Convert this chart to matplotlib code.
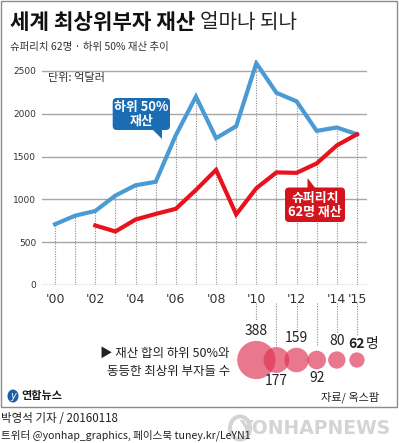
import numpy as np
import matplotlib
matplotlib.use("Agg")
import matplotlib.pyplot as plt
import matplotlib.transforms as mtransforms
from matplotlib.patches import FancyBboxPatch, Polygon, Rectangle, Ellipse

plt.rcParams['font.family'] = ['Noto Sans CJK KR', 'DejaVu Sans']

# data (unit: 100 million dollars)
years = list(range(2000, 2016))
bottom50 = [710, 810, 865, 1045, 1165, 1205, 1750, 2200, 1715, 1855,
            2590, 2245, 2145, 1800, 1840, 1760]
top62_years = list(range(2002, 2016))
top62 = [695, 625, 765, 830, 890, 1110, 1345, 825, 1130, 1315,
         1310, 1420, 1630, 1760]

xtick_years = [2000, 2002, 2004, 2006, 2008, 2010, 2012, 2014, 2015]
xtick_labels = ["'00", "'02", "'04", "'06", "'08", "'10", "'12", "'14", "'15"]
ytick_vals = [0, 500, 1000, 1500, 2000, 2500]

bubble_years = [2010, 2011, 2012, 2013, 2014, 2015]
bubble_counts = [388, 177, 159, 92, 80, 62]
bubble_above = [True, False, True, False, True, True]

BLUE = "#4a9ad4"
BLUE_BOX = "#1a6db3"
RED = "#e8121c"
RED_BOX = "#d3141c"
GRID = "#a8a8a8"
DOT = "#8a8a8a"
DOTSTYLE = (0, (1, 1.3))

W, H = 399, 443
fig = plt.figure(figsize=(W / 100, H / 100), dpi=100)

# background overlay in pixel coordinates
ov = fig.add_axes([0, 0, 1, 1], zorder=0)
ov.set_xlim(0, W)
ov.set_ylim(H, 0)
ov.axis("off")

# main chart axes
px_left, px_right, px_bottom, px_top = 42, 367, 285, 60
ax = fig.add_axes([px_left / W, 1 - px_bottom / H,
                   (px_right - px_left) / W, (px_bottom - px_top) / H], zorder=1)
ax.set_facecolor("none")
ax.set_xlim(1999.35, 2015.5)
ax.set_ylim(0, 2628)
for s in ax.spines.values():
    s.set_visible(False)

for v in ytick_vals:
    ax.axhline(v, color=GRID, lw=1.0, zorder=1)
ax.set_yticks(ytick_vals)
ax.set_yticklabels([str(v) for v in ytick_vals], fontsize=6.5, color="#333333",
                   family=["Liberation Sans Narrow", "DejaVu Sans"])
ax.set_xticks(xtick_years)
ax.set_xticklabels(xtick_labels, fontsize=9, color="#333333",
                   family=["Liberation Sans Narrow", "DejaVu Sans"])
ax.tick_params(axis="both", length=0)
ax.tick_params(axis="y", pad=4)
ax.tick_params(axis="x", pad=6)

# dotted drop lines
red_map = dict(zip(top62_years, top62))
for yr, b in zip(years, bottom50):
    top = max(b, red_map.get(yr, 0))
    ax.plot([yr, yr], [0, top], color=DOT, lw=0.8, ls=DOTSTYLE, zorder=2)

ax.plot(years, bottom50, color=BLUE, lw=3, solid_joinstyle="miter", zorder=3)
ax.plot(top62_years, top62, color=RED, lw=3, solid_joinstyle="miter", zorder=4)

ax.text(1999.64, 2420, "단위: 억달러", fontsize=8, color="#333333", va="center")

# callouts (pixel coordinates)
pt = ov.transData
def callout(x0, y0, x1, y1, tail, color, text):
    box = FancyBboxPatch((x0, y0), x1 - x0, y1 - y0,
                         boxstyle="round,pad=0,rounding_size=4",
                         fc=color, ec="none", transform=pt, clip_on=False, zorder=6)
    ax.add_patch(box)
    ax.add_patch(Polygon(tail, closed=True, fc=color, ec="none", transform=pt,
                         clip_on=False, zorder=6))
    ax.text((x0 + x1) / 2, (y0 + y1) / 2, text, transform=pt, ha="center",
            va="center", color="white", fontsize=9.3, linespacing=0.95,
            fontweight="bold", zorder=7)

callout(112.7, 98, 170, 130, [(152, 129), (162, 129), (162, 138.5)],
        BLUE_BOX, "하위 50%\n재산")
callout(285, 187.5, 345, 222, [(307.5, 189), (307.5, 178), (316, 189)],
        RED_BOX, "슈퍼리치\n62명 재산")

# title block
ov.text(10, 22, "세계 최상위부자 재산", fontsize=15.3, fontweight="bold",
        va="center", ha="left", color="#111111")
ov.text(200, 22, "얼마나 되나", fontsize=14.5, fontweight="light",
        va="center", ha="left", color="#222222")
ov.text(10, 47, "슈퍼리치 62명 · 하위 50% 재산 추이", fontsize=7.5,
        va="center", ha="left", color="#333333")

# bubbles for the number of richest people
bt = mtransforms.blended_transform_factory(ax.transData, ov.transData)
bub_y = 360
drop_bottoms = [321, 347, 330, 346, 333, 335]
for yr, yb in zip(bubble_years, drop_bottoms):
    ov.plot([yr, yr], [303, yb], color=DOT, lw=0.8, ls=DOTSTYLE,
            transform=bt)
sizes = [(2 * 0.97 * np.sqrt(c) * 0.72) ** 2 for c in bubble_counts]
ov.scatter(bubble_years, [bub_y] * len(bubble_years), s=sizes, color="#de3154",
           alpha=0.66, edgecolors="none", transform=bt, zorder=3)
for yr, c, up in zip(bubble_years, bubble_counts, bubble_above):
    if yr == 2015:
        ov.text(yr, 344, str(c), transform=bt, ha="center", va="center",
                fontsize=10, fontweight="bold", color="#222222")
        ov.text(yr + 0.42, 344, "명", transform=bt, ha="left", va="center",
                fontsize=10, color="#222222")
        continue
    if up:
        ty = bub_y - 0.97 * np.sqrt(c) - 10
    else:
        ty = 381 if c > 100 else 378
    ov.text(yr, ty, str(c), transform=bt, ha="center", va="center",
            fontsize=10, color="#222222")
ov.text(230, 353, "▶ 재산 합의 하위 50%와", fontsize=9, ha="right", va="center",
        color="#222222", family=["Noto Sans CJK KR", "DejaVu Sans"])
ov.text(230, 372, "동등한 최상위 부자들 수", fontsize=9, ha="right", va="center",
        color="#222222")

# frame, logo, source
ov.add_patch(Rectangle((1, 0.5), 396, 406.5, fill=False, ec="#8c8c8c", lw=1))
ov.add_patch(Ellipse((13, 396), 11, 13, fc="#1d5fa8", ec="none"))
ov.text(13, 396, "y", fontsize=7, color="white", ha="center", va="center",
        fontstyle="italic", family="DejaVu Sans")
ov.text(21, 396, "연합뉴스", fontsize=8, fontweight="bold", ha="left",
        va="center", color="#1a1a1a")
ov.text(379, 397, "자료/ 옥스팜", fontsize=8, ha="right", va="center",
        color="#222222")

# footer outside the frame
ov.add_patch(Ellipse((240, 428), 20, 23, fc="none", ec="#d4d4d4", lw=3))
ov.text(390, 429, "YONHAPNEWS", fontsize=13.5, fontweight="bold", ha="right",
        va="center", color="#d4d4d4", family="DejaVu Sans")
ov.text(1, 418, "박영석 기자 / 20160118", fontsize=8.3, ha="left", va="center",
        color="#222222")
ov.text(1, 435, "트위터 @yonhap_graphics, 페이스북 tuney.kr/LeYN1", fontsize=7.6,
        ha="left", va="center", color="#222222", zorder=5)

fig.savefig("out.png", dpi=100)
